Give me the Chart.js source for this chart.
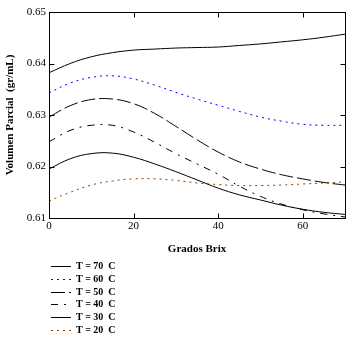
<!DOCTYPE html>
<html>
<head>
<meta charset="utf-8">
<script src="https://cdn.jsdelivr.net/npm/chart.js@4.4.1/dist/chart.umd.min.js"></script>
<style>
  html, body { margin: 0; padding: 0; background: #fff; }
  canvas { display: block; }
</style>
</head>
<body>
<canvas id="chart1" width="359" height="340"></canvas>
<script>
// Grados Brix (x values) and volumen parcial for each temperature
var brix = [0, 5, 10, 15, 20, 25, 30, 35, 40, 45, 50, 55, 60, 65, 70];
var t70 = [0.6382, 0.6400, 0.6413, 0.6421, 0.6426, 0.6428, 0.6430, 0.6431, 0.6432, 0.6435, 0.6438, 0.6442, 0.6446, 0.6451, 0.6457];
var t60 = [0.6343, 0.6362, 0.6373, 0.6376, 0.6370, 0.6358, 0.6344, 0.6331, 0.6319, 0.6307, 0.6296, 0.6288, 0.6282, 0.6280, 0.6280];
var t50 = [0.6296, 0.6318, 0.6330, 0.6331, 0.6322, 0.6303, 0.6278, 0.6252, 0.6228, 0.6209, 0.6195, 0.6184, 0.6176, 0.6169, 0.6164];
var t40 = [0.6248, 0.6270, 0.6280, 0.6280, 0.6267, 0.6247, 0.6225, 0.6205, 0.6185, 0.6162, 0.6142, 0.6127, 0.6116, 0.6108, 0.6102];
var t30 = [0.6195, 0.6215, 0.6225, 0.6226, 0.6218, 0.6205, 0.6190, 0.6174, 0.6158, 0.6145, 0.6135, 0.6125, 0.6117, 0.6111, 0.6107];
var t20 = [0.6133, 0.6150, 0.6164, 0.6172, 0.6176, 0.6176, 0.6173, 0.6168, 0.6165, 0.6163, 0.6163, 0.6164, 0.6166, 0.6168, 0.6170];
var labels = ["T = 70  C", "T = 60  C", "T = 50  C", "T = 40  C", "T = 30  C", "T = 20  C"];
var xTicks = [0, 20, 40, 60];
var yTicks = [0.61, 0.62, 0.63, 0.64, 0.65];

function pts(ys) {
    return brix.map(function (x, i) { return { x: x, y: ys[i] }; });
}

function serie(label, ys, color, dash) {
    return {
        label: label,
        data: pts(ys),
        borderColor: color,
        borderWidth: 1,
        borderDash: dash,
        pointRadius: 0,
        fill: false,
        tension: 0.4
    };
}

// frame, inward ticks and the legend list under the plot
var framePlugin = {
    id: 'frame',
    afterDraw: function (chart) {
        var ctx = chart.ctx;
        var a = chart.chartArea;
        var xs = chart.scales.x, ys = chart.scales.y;
        var L = Math.round(a.left) + 0.5, R = Math.round(a.right) + 0.5;
        var T = Math.round(a.top) + 0.5, B = Math.round(a.bottom) + 0.5;
        ctx.save();
        ctx.strokeStyle = '#000';
        ctx.lineWidth = 1;
        ctx.setLineDash([]);
        ctx.strokeRect(L, T, R - L, B - T);
        ctx.beginPath();
        xTicks.forEach(function (v) {
            var p = Math.round(xs.getPixelForValue(v)) + 0.5;
            ctx.moveTo(p, B); ctx.lineTo(p, B - 5);
            ctx.moveTo(p, T); ctx.lineTo(p, T + 5);
        });
        yTicks.forEach(function (v) {
            var p = Math.round(ys.getPixelForValue(v)) + 0.5;
            ctx.moveTo(L, p); ctx.lineTo(L + 5, p);
            ctx.moveTo(R, p); ctx.lineTo(R - 5, p);
        });
        ctx.stroke();

        // legend
        ctx.font = 'bold 10px "Liberation Serif"';
        ctx.textBaseline = 'middle';
        ctx.textAlign = 'left';
        chart.data.datasets.forEach(function (ds, i) {
            var y = Math.round(266 + i * 12.8) + 0.5;
            ctx.strokeStyle = ds.borderColor;
            ctx.setLineDash(ds.borderDash || []);
            ctx.beginPath();
            ctx.moveTo(51, y); ctx.lineTo(71, y);
            ctx.stroke();
            ctx.fillStyle = '#000';
            ctx.fillText(ds.label, 76, y);
        });
        ctx.restore();
    }
};

const CHART = document.getElementById("chart1");
let lineChart = new Chart(CHART, {
    type: 'line',
    data: {
        datasets: [
            serie(labels[0], t70, '#000000', []),
            serie(labels[1], t60, '#0000ff', [2, 4]),
            serie(labels[2], t50, '#000000', [14, 4]),
            serie(labels[3], t40, '#000000', [7, 6, 2, 6]),
            serie(labels[4], t30, '#000000', []),
            serie(labels[5], t20, '#8b4000', [2, 4])
        ]
    },
    options: {
        responsive: false,
        animation: false,
        layout: { padding: { top: 12, right: 14, left: 0, bottom: 84 } },
        plugins: {
            legend: { display: false },
            tooltip: { enabled: false }
        },
        scales: {
            x: {
                type: 'linear',
                min: 0,
                max: 70,
                afterFit: function (s) { s.height = 38; },
                afterBuildTicks: function (s) { s.ticks = xTicks.map(function (v) { return { value: v }; }); },
                ticks: {
                    color: '#000',
                    padding: 2,
                    maxRotation: 0,
                    font: { family: 'Liberation Serif', size: 11 }
                },
                grid: { drawOnChartArea: false, drawTicks: false },
                border: { color: '#000' },
                title: {
                    display: true,
                    text: 'Grados Brix',
                    color: '#000',
                    padding: { top: 0, bottom: 0 },
                    font: { family: 'Liberation Serif', size: 11, weight: 'bold' }
                }
            },
            y: {
                min: 0.61,
                max: 0.65,
                afterFit: function (s) { s.width = 49; },
                afterBuildTicks: function (s) { s.ticks = yTicks.map(function (v) { return { value: v }; }); },
                ticks: {
                    color: '#000',
                    padding: 3,
                    callback: function (v) { return v.toFixed(2); },
                    font: { family: 'Liberation Serif', size: 11 }
                },
                grid: { drawOnChartArea: false, drawTicks: false },
                border: { color: '#000' },
                title: {
                    display: true,
                    text: 'Volumen Parcial  (gr/mL)',
                    color: '#000',
                    padding: { top: 4, bottom: 0 },
                    font: { family: 'Liberation Serif', size: 11, weight: 'bold' }
                }
            }
        }
    },
    plugins: [framePlugin]
});
</script>
</body>
</html>
